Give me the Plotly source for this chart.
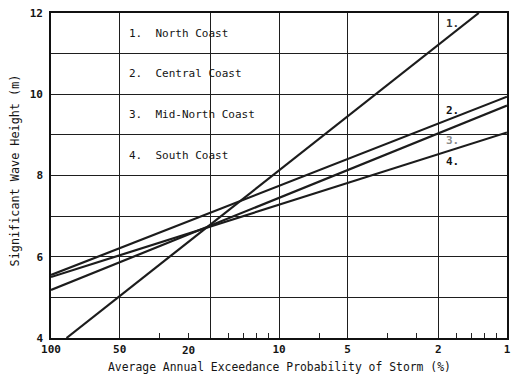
import numpy as np
import plotly.graph_objects as go

# Design storm wave heights vs. average annual exceedance probability
coasts = ["North Coast", "Central Coast", "Mid-North Coast", "South Coast"]
line_tags = ["1.", "2.", "3.", "4."]

# each curve is a straight line on the log-probability axis: two points per curve
prob_north = [85.5, 1.33]
height_north = [4.0, 12.0]
prob_central = [100, 1]
height_central = [5.55, 9.94]
prob_midnorth = [100, 1]
height_midnorth = [5.18, 9.72]
prob_south = [100, 1]
height_south = [5.50, 9.06]

# axis tick values
grid_probs = [100, 50, 20, 10, 5, 2, 1]
prob_labels = ["100", "50", "", "10", "5", "2", "1"]
twenty_label_prob = 25  # where the "20" label is lettered on the sheet
ari_minor_years = [3, 4, 6, 7, 8, 9, 15, 30, 40, 60, 70, 80, 90]
height_ticks = [4, 5, 6, 7, 8, 9, 10, 11, 12]
height_labels = ["4", "", "6", "", "8", "", "10", "", "12"]

# tag positions at the right-hand end of each curve
tag_heights = [11.75, 9.59, 8.86, 8.34]
tag_colors = ["#333333", "#111111", "#8a8a8a", "#111111"]
legend_rows = [11.5, 10.5, 9.5, 8.5]

MONO = "DejaVu Sans Mono"
INK = "#141414"

series = [
    (prob_north, height_north),
    (prob_central, height_central),
    (prob_midnorth, height_midnorth),
    (prob_south, height_south),
]

fig = go.Figure()
for name, (p, h) in zip(coasts, series):
    fig.add_trace(go.Scatter(
        x=p, y=h, mode="lines", name=name,
        line=dict(color="#1c1c1c", width=2.2),
        showlegend=False, hoverinfo="skip",
    ))

annotations = []
# numbered key in the upper-left cells
for tag, name, row in zip(line_tags, coasts, legend_rows):
    annotations.append(dict(
        xref="paper", yref="y", x=0.167, y=row,
        text=tag + "\u00a0\u00a0" + name, showarrow=False,
        xanchor="left", yanchor="middle",
        font=dict(family=MONO, size=11, color=INK),
    ))
# curve tags
for tag, ht, col in zip(line_tags, tag_heights, tag_colors):
    annotations.append(dict(
        xref="paper", yref="y", x=0.861, y=ht,
        text=tag, showarrow=False, xanchor="left", yanchor="middle",
        font=dict(family=MONO, size=11, color=col, weight="bold"),
    ))
# the "20" probability label
annotations.append(dict(
    xref="x", yref="paper", x=np.log10(twenty_label_prob), y=0,
    text="20", showarrow=False, xanchor="center", yanchor="middle",
    yshift=-12,
    font=dict(family=MONO, size=11, color=INK, weight="bold"),
))
# axis titles
annotations.append(dict(
    xref="paper", yref="paper", x=0.5, y=0, yshift=-29,
    text="Average Annual Exceedance Probability of Storm (%)",
    showarrow=False, xanchor="center", yanchor="middle",
    font=dict(family=MONO, size=11.4, color=INK),
))
annotations.append(dict(
    xref="paper", yref="paper", x=-0.078, y=0.517,
    text="Significant Wave Height (m)", textangle=-90,
    showarrow=False, xanchor="center", yanchor="middle",
    font=dict(family=MONO, size=11.8, color=INK),
))

fig.update_layout(
    width=514, height=377,
    margin=dict(l=51, r=3, t=13, b=39),
    paper_bgcolor="white", plot_bgcolor="white",
    annotations=annotations,
    xaxis=dict(
        type="log", range=[2, 0],
        tickmode="array", tickvals=grid_probs, ticktext=prob_labels,
        showgrid=True, gridcolor="#1e1e1e", gridwidth=1.3,
        ticks="", zeroline=False,
        showline=True, linecolor="#111111", linewidth=1.6, mirror=True,
        tickfont=dict(family=MONO, size=11, color=INK, weight="bold"),
        minor=dict(
            tickmode="array",
            tickvals=[100 / t for t in ari_minor_years],
            ticks="inside", ticklen=5, tickwidth=1.2, tickcolor="#222222",
            showgrid=False,
        ),
    ),
    yaxis=dict(
        range=[4, 12],
        tickmode="array", tickvals=height_ticks, ticktext=height_labels,
        showgrid=True, gridcolor="#1e1e1e", gridwidth=1.3,
        ticks="", zeroline=False, ticklabelstandoff=4,
        showline=True, linecolor="#111111", linewidth=1.6, mirror=True,
        tickfont=dict(family=MONO, size=11, color=INK, weight="bold"),
    ),
)

fig.write_html("out.html")
